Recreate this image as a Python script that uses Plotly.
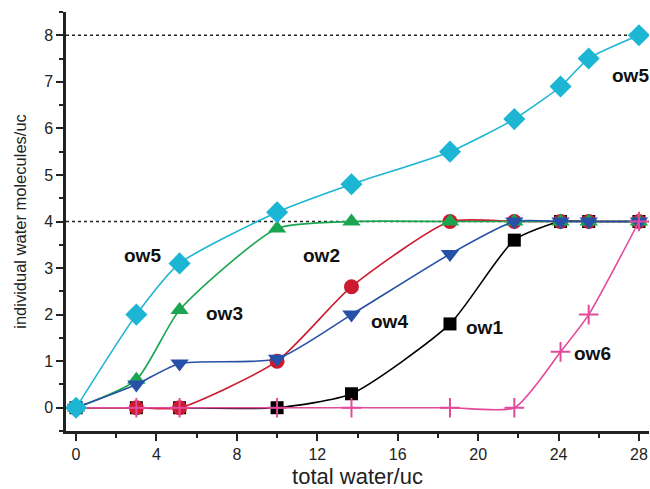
import plotly.graph_objects as go

x = [0, 3, 5.15, 10, 13.7, 18.6, 21.8, 24.1, 25.5, 28]
ow1 = [0, 0, 0, 0, 0.3, 1.8, 3.6, 4.0, 4.0, 4.0]
ow2 = [0, 0, 0, 1.0, 2.6, 4.0, 4.0, 4.0, 4.0, 4.0]
ow3 = [0, 0.6, 2.1, 3.85, 4.0, 4.0, 4.0, 4.0, 4.0, 4.0]
ow4 = [0, 0.5, 0.95, 1.05, 2.0, 3.3, 4.0, 4.0, 4.0, 4.0]
ow6 = [0, 0, 0, 0, 0, 0, 0, 1.2, 2.0, 4.0]
ow5 = [0, 2.0, 3.1, 4.2, 4.8, 5.5, 6.2, 6.9, 7.5, 8.0]

label_text = ["ow5", "ow5", "ow3", "ow2", "ow4", "ow1", "ow6"]
label_x = [3.3, 27.6, 7.4, 12.2, 15.6, 20.3, 25.7]
label_y = [3.26, 7.13, 2.03, 3.26, 1.86, 1.73, 1.16]

series = [
    ("ow1", ow1, "#000000", "square", 13),
    ("ow2", ow2, "#cc1a2e", "circle", 15),
    ("ow3", ow3, "#1aa650", "triangle-up", 16),
    ("ow4", ow4, "#2750a8", "triangle-down", 16),
    ("ow6", ow6, "#e24a9c", "cross-thin", 14),
    ("ow5", ow5, "#1cb6d4", "diamond", 17),
]

fig = go.Figure()
for name, ys, col, sym, sz in series:
    mk = dict(color=col, symbol=sym, size=sz)
    if sym == "cross-thin":
        mk["line"] = dict(color=col, width=2)
    fig.add_trace(go.Scatter(
        x=x, y=ys, name=name, mode="lines+markers",
        line=dict(color=col, width=1.6, shape="spline", smoothing=0.6),
        marker=mk, showlegend=False))

for yv in (4, 8):
    fig.add_shape(type="line", x0=-0.5, x1=28.5, y0=yv, y1=yv, xref="x", yref="y",
                  line=dict(color="#222222", width=1.5, dash="dot"), layer="below")

for t, lx, ly in zip(label_text, label_x, label_y):
    fig.add_annotation(x=lx, y=ly, text="<b>" + t + "</b>", showarrow=False,
                       font=dict(size=19, color="#111111", family="Arial, Liberation Sans"))

fig.update_layout(
    width=650, height=489,
    margin=dict(l=66, r=1, t=12, b=58),
    plot_bgcolor="white", paper_bgcolor="white",
    font=dict(family="Arial, Liberation Sans", color="#222222"),
    xaxis=dict(range=[-0.5, 28.5], tickvals=[0, 4, 8, 12, 16, 20, 24, 28],
               ticks="outside", ticklen=7, tickwidth=1.5, tickcolor="#222222",
               showline=True, linecolor="#222222", linewidth=2.5, showgrid=False,
               zeroline=False, tickfont=dict(size=16),
               minor=dict(dtick=2, tick0=0, ticks="outside", ticklen=4, tickwidth=1.5, tickcolor="#222222"),
               title=dict(text="total water/uc", font=dict(size=22), standoff=10)),
    yaxis=dict(range=[-0.5, 8.5], tickvals=[0, 1, 2, 3, 4, 5, 6, 7, 8],
               ticks="outside", ticklen=7, tickwidth=1.5, tickcolor="#222222",
               showline=True, linecolor="#222222", linewidth=2.5, showgrid=False,
               zeroline=False, tickfont=dict(size=16),
               minor=dict(dtick=0.5, tick0=0, ticks="outside", ticklen=4, tickwidth=1.5, tickcolor="#222222"),
               title=dict(text="individual water molecules/uc", font=dict(size=16.5), standoff=14)),
)

fig.write_html("out.html")
